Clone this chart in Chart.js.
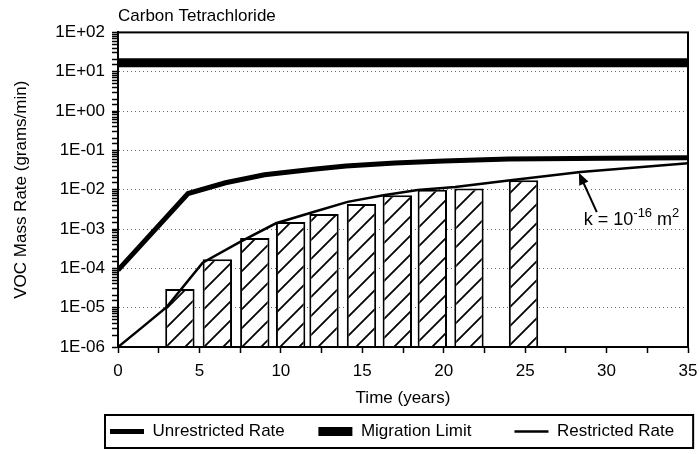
<!DOCTYPE html>
<html>
<head>
<meta charset="utf-8">
<script src="https://cdn.jsdelivr.net/npm/chart.js@4.4.0/dist/chart.umd.min.js"></script>
<style>
  body { margin: 0; background: #fff; }
  #wrap { width: 699px; height: 454px; }
</style>
</head>
<body>
<div id="wrap"><canvas id="chart"></canvas></div>
<script>
// values
const unrestrictedYears = [0, 4.3, 6.6, 9, 12, 14, 17, 20, 24, 30, 35];
const unrestrictedRate = [9e-5, 8e-3, 1.5e-2, 2.4e-2, 3.3e-2, 4.0e-2, 4.8e-2, 5.4e-2, 6.0e-2, 6.3e-2, 6.5e-2];
const restrictedYears = [0, 1.5, 3, 5.2, 7.5, 9.7, 12, 14.1, 16.3, 18.4, 20.7, 24.1, 28.4, 35];
const restrictedRate = [1e-6, 3.2e-6, 1.05e-5, 1.4e-4, 4.7e-4, 1.4e-3, 2.7e-3, 4.9e-3, 7.2e-3, 9.8e-3, 1.17e-2, 1.74e-2, 2.8e-2, 4.7e-2];
const migrationYears = [0, 35];
const migrationLimit = [17, 17];
const barYears = [3.8, 6.1, 8.4, 10.6, 12.65, 14.95, 17.15, 19.3, 21.55, 24.9];
const barRates = [3.0e-5, 1.7e-4, 5.9e-4, 1.5e-3, 2.4e-3, 4.3e-3, 7.2e-3, 1.0e-2, 1.07e-2, 1.74e-2];
const seriesLabels = ['Unrestricted Rate', 'Migration Limit', 'Restricted Rate'];

const FONT = '"Liberation Sans", Arial, sans-serif';
Chart.defaults.font.family = FONT;
Chart.defaults.font.size = 17;
Chart.defaults.color = '#000';

function pts(xs, ys) {
  return xs.map((x, i) => ({ x: x, y: ys[i] }));
}

function isDecade(v) {
  const l = Math.log10(v);
  return Math.abs(l - Math.round(l)) < 1e-6;
}

function sci(v) {
  const e = Math.round(Math.log10(v));
  const s = e < 0 ? '-' : '+';
  return '1E' + s + String(Math.abs(e)).padStart(2, '0');
}

function hatch() {
  const s = 19;
  const c = document.createElement('canvas');
  c.width = s; c.height = s;
  const g = c.getContext('2d');
  g.fillStyle = '#fff';
  g.fillRect(0, 0, s, s);
  g.strokeStyle = '#000';
  g.lineWidth = 1.8;
  g.beginPath();
  g.moveTo(-2, s + 2); g.lineTo(s + 2, -2);
  g.moveTo(-2, 2); g.lineTo(2, -2);
  g.moveTo(s - 2, s + 2); g.lineTo(s + 2, s - 2);
  g.stroke();
  return g.createPattern(c, 'repeat');
}

const extras = {
  id: 'extras',
  afterLayout(chart) {
    // move the legend row so it starts under the axis like the original
    const lg = chart.legend;
    const pad = lg.options.labels.padding;
    const start = (lg.left + pad + lg.right - lg.lineWidths[0]) / 2;
    const shift = 110 - start;
    lg.left += shift;
    lg.right += shift;
  },
  afterDraw(chart) {
    const { ctx, chartArea: a, legend } = chart;
    const x = chart.scales.x, y = chart.scales.y;
    ctx.save();
    ctx.strokeStyle = '#000';
    ctx.lineWidth = 2;
    ctx.strokeRect(a.left, a.top, a.right - a.left, a.bottom - a.top);

    // box round the legend
    const hb = legend.legendHitBoxes;
    const last = hb[hb.length - 1];
    const bx = hb[0].left - 5;
    const br = Math.min(last.left + last.width + 19, chart.width - 3);
    ctx.strokeRect(bx, legend.top + 2, br - bx, legend.height - 4);

    // k = 10^-16 m^2 note with arrow
    const tx = x.getPixelForValue(28.3), ty = y.getPixelForValue(0.027);
    const sx = x.getPixelForValue(29.4), sy = y.getPixelForValue(2.7e-3);
    const ang = Math.atan2(ty - sy, tx - sx);
    ctx.lineWidth = 2;
    ctx.beginPath();
    ctx.moveTo(sx, sy);
    ctx.lineTo(tx - 8 * Math.cos(ang), ty - 8 * Math.sin(ang));
    ctx.stroke();
    ctx.beginPath();
    ctx.moveTo(tx, ty);
    ctx.lineTo(tx - 12 * Math.cos(ang) + 5 * Math.sin(ang), ty - 12 * Math.sin(ang) - 5 * Math.cos(ang));
    ctx.lineTo(tx - 12 * Math.cos(ang) - 5 * Math.sin(ang), ty - 12 * Math.sin(ang) + 5 * Math.cos(ang));
    ctx.closePath();
    ctx.fillStyle = '#000';
    ctx.fill();

    let px = x.getPixelForValue(28.6);
    const py = y.getPixelForValue(1.26e-3);
    ctx.textBaseline = 'alphabetic';
    ctx.textAlign = 'left';
    const parts = [['k = 10', 18, 0], ['-16', 13, -8], [' m', 18, 0], ['2', 13, -8]];
    parts.forEach(([t, sz, dy]) => {
      ctx.font = sz + 'px ' + FONT;
      ctx.fillText(t, px, py + dy);
      px += ctx.measureText(t).width;
    });
    ctx.restore();
  }
};

new Chart(document.getElementById('chart'), {
  type: 'line',
  data: {
    datasets: [
      {
        label: seriesLabels[0] + '     ',
        data: pts(unrestrictedYears, unrestrictedRate),
        borderColor: '#000', backgroundColor: '#000',
        borderWidth: 5, pointRadius: 0, order: 1
      },
      {
        label: seriesLabels[1] + '       ',
        data: pts(migrationYears, migrationLimit),
        borderColor: '#000', backgroundColor: '#000',
        borderWidth: 9, pointRadius: 0, order: 1
      },
      {
        label: seriesLabels[2],
        data: pts(restrictedYears, restrictedRate),
        borderColor: '#000', backgroundColor: '#000',
        borderWidth: 2.5, pointRadius: 0, order: 1
      },
      {
        type: 'bar',
        label: 'measured',
        data: pts(barYears, barRates),
        backgroundColor: hatch(),
        borderColor: '#000',
        borderWidth: 2,
        barPercentage: 0.88,
        categoryPercentage: 1,
        order: 5
      }
    ]
  },
  options: {
    responsive: true,
    maintainAspectRatio: false,
    animation: false,
    devicePixelRatio: 1,
    layout: { padding: { left: 0, right: 0, top: 0, bottom: 4 } },
    plugins: {
      tooltip: { enabled: false },
      title: {
        display: true,
        text: 'Carbon Tetrachloride',
        align: 'start',
        fullSize: false,
        font: { size: 17, weight: 'normal' },
        padding: { top: 6, bottom: 6 }
      },
      legend: {
        position: 'bottom',
        fullSize: true,
        labels: {
          filter: item => item.datasetIndex < 3,
          usePointStyle: true,
          pointStyle: 'line',
          pointStyleWidth: 34,
          padding: 10,
          font: { size: 17 }
        }
      }
    },
    scales: {
      x: {
        type: 'linear',
        min: 0, max: 35,
        offset: false,
        grid: { offset: false, drawOnChartArea: false, tickLength: 6, tickColor: '#000', tickWidth: 1.5 },
        border: { color: '#000', width: 2 },
        ticks: {
          stepSize: 2.5,
          autoSkip: false,
          maxRotation: 0,
          padding: 10,
          font: { size: 17, lineHeight: 1 },
          callback: v => (v % 5 === 0 ? v : '')
        },
        title: {
          display: true,
          text: 'Time (years)',
          font: { size: 17, lineHeight: 1 },
          padding: { top: 0, bottom: 6 }
        },
        afterFit: s => { s.paddingRight = 11; }
      },
      y: {
        type: 'logarithmic',
        min: 1e-6, max: 100,
        grid: {
          color: c => (c.tick && isDecade(c.tick.value) ? '#666' : 'rgba(0,0,0,0)'),
          tickColor: '#000',
          tickLength: 6,
          tickWidth: 1.5
        },
        border: { color: '#000', width: 2, dash: [1, 3] },
        ticks: {
          autoSkip: false,
          padding: 7,
          callback: v => (isDecade(v) ? sci(v) : '')
        },
        title: { display: true, text: 'VOC Mass Rate (grams/min)', padding: { top: 11, bottom: 0 } },
        afterFit: s => { s.width = 118; }
      }
    }
  },
  plugins: [extras]
});
</script>
</body>
</html>
